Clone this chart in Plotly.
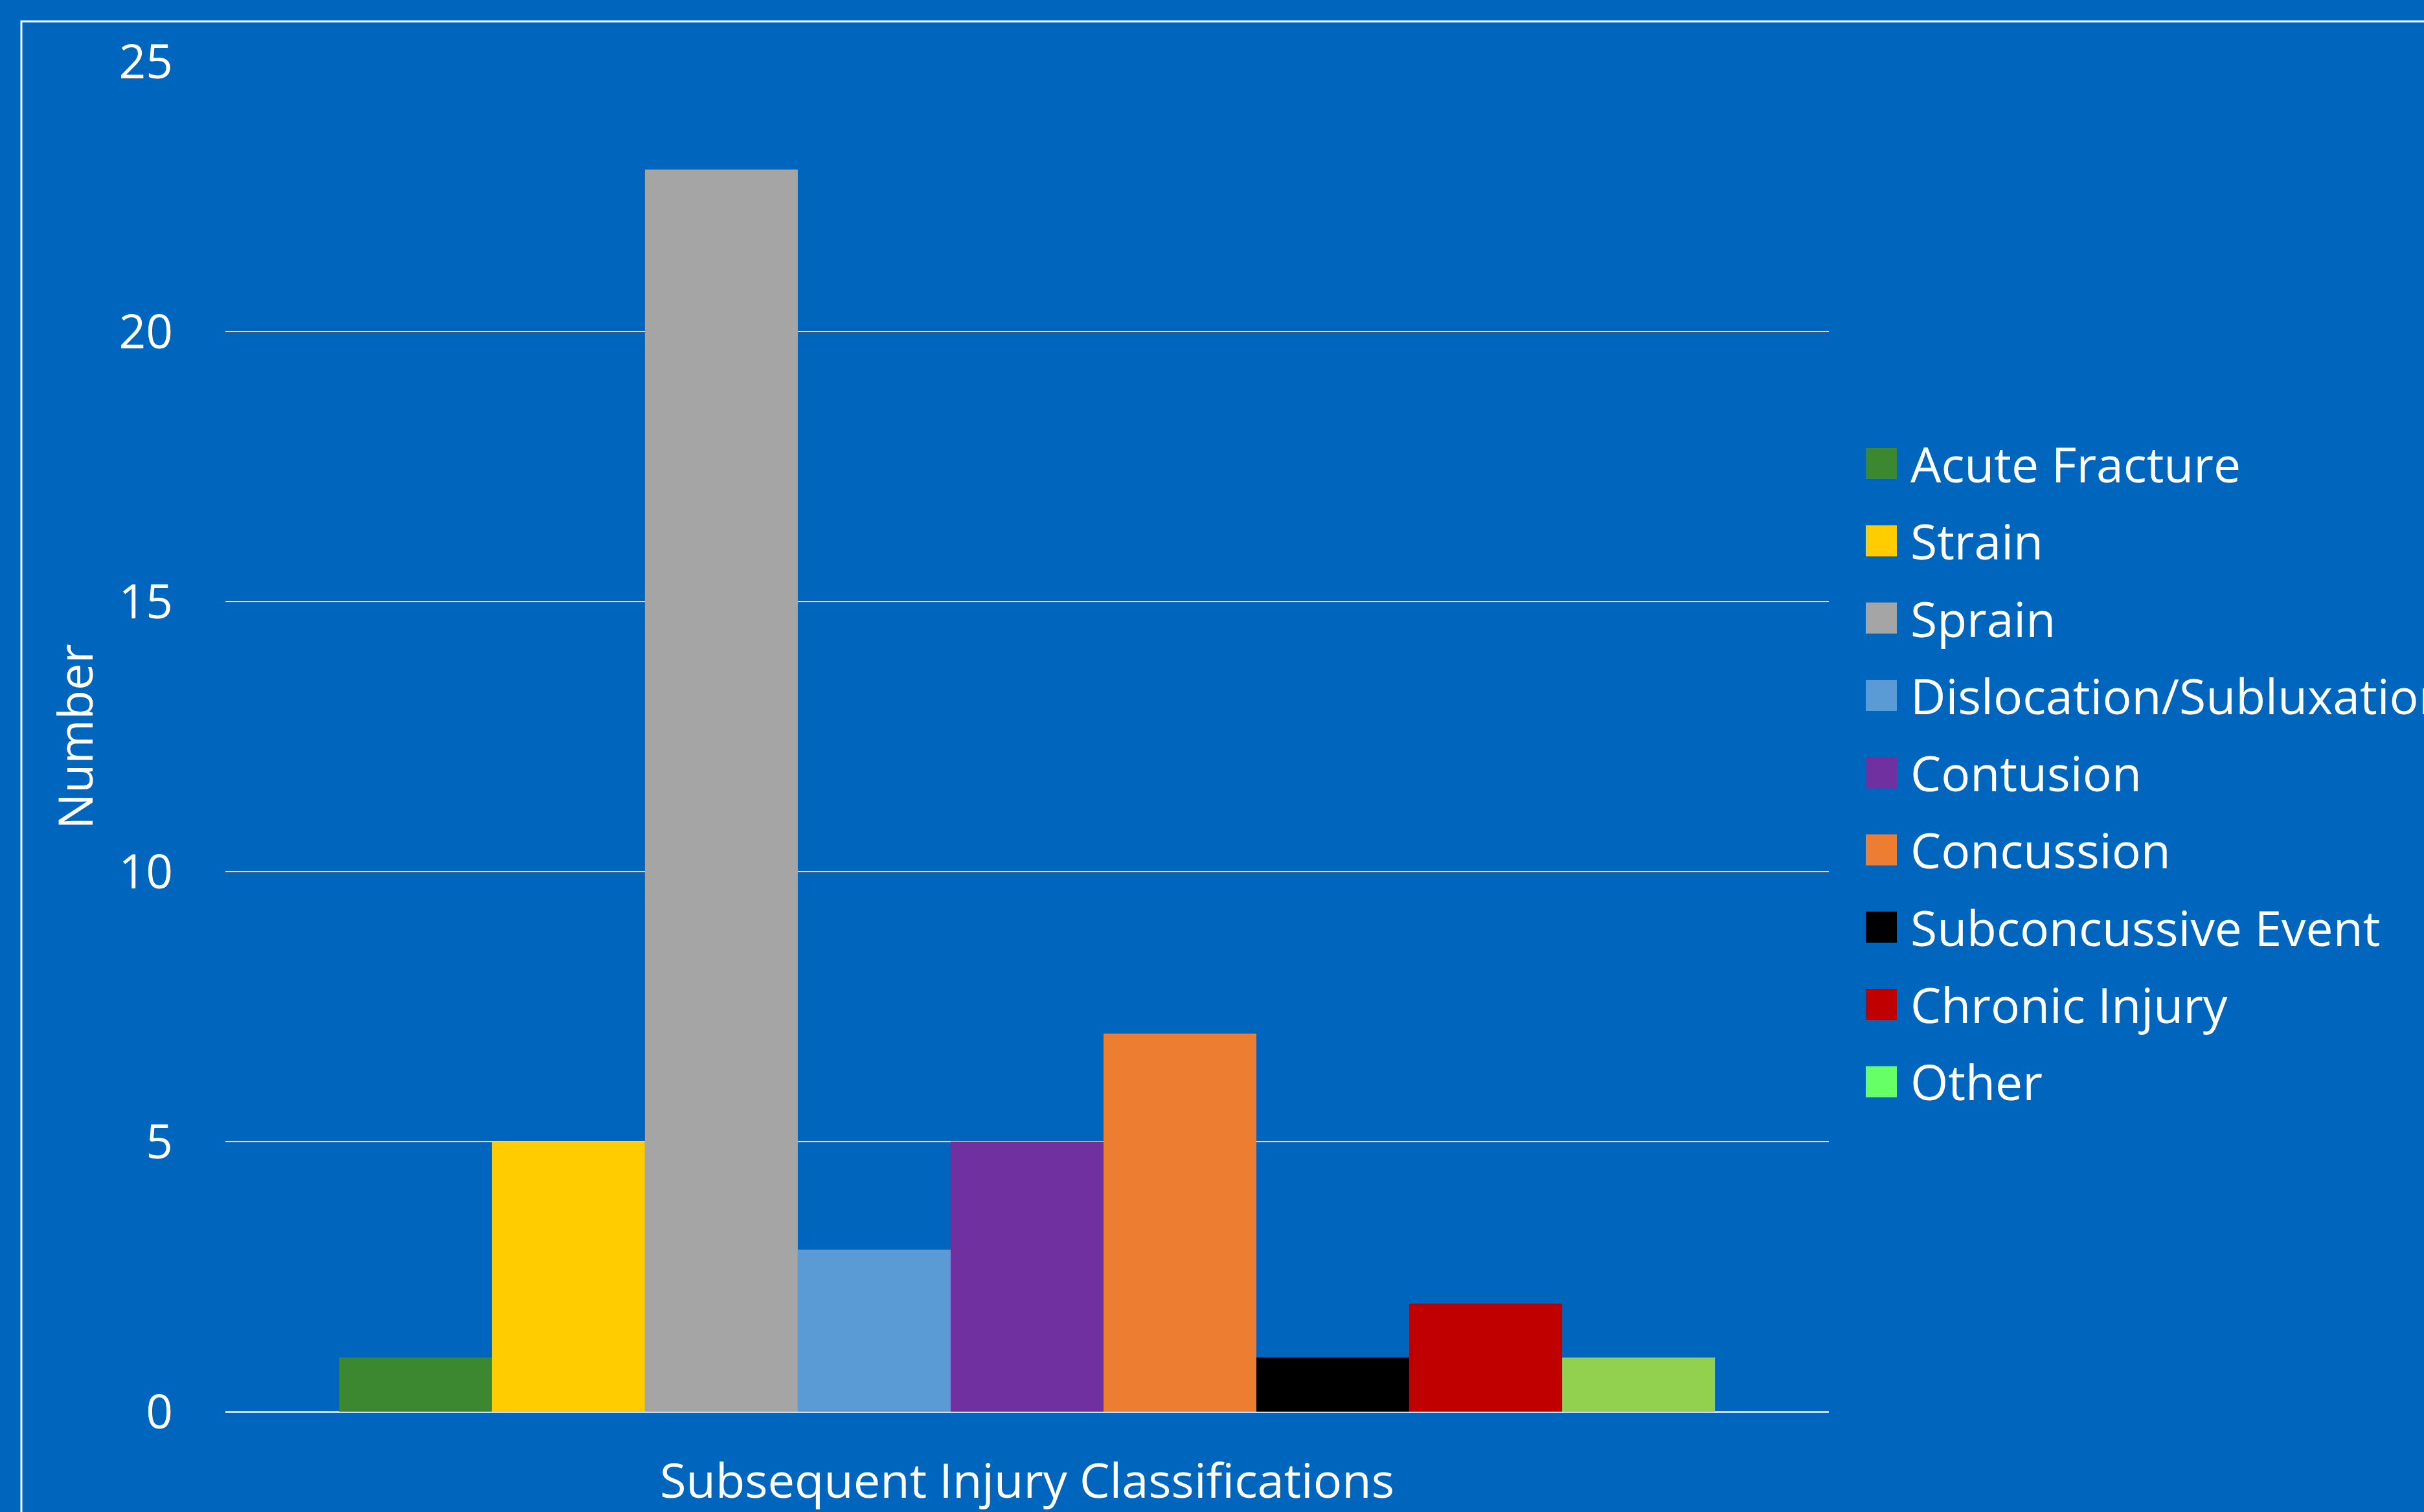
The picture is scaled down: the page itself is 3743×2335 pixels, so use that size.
import plotly.graph_objects as go

categories = ["Acute Fracture", "Strain", "Sprain", "Dislocation/Subluxation",
              "Contusion", "Concussion", "Subconcussive Event", "Chronic Injury", "Other"]
values = [1, 5, 23, 3, 5, 7, 1, 2, 1]
colors = ["#3C8830", "#FFCC00", "#A5A5A5", "#5B9BD5", "#7030A0",
          "#ED7D31", "#000000", "#C00000", "#92D050"]
legend_colors = ["#3C8830", "#FFCC00", "#A5A5A5", "#5B9BD5", "#7030A0",
                 "#ED7D31", "#000000", "#C00000", "#66FF66"]
group_label = "Subsequent Injury Classifications"
y_ticks = [0, 5, 10, 15, 20, 25]

W, H = 3743, 2335
ML, MR, MT, MB = 348, 919, 95, 155
PW, PH = W - ML - MR, H - MT - MB
BG = "#0065BD"
FONT = "Open Sans"

def px_x(px):
    return (px - ML) / PW

def px_y(py):
    return (H - MB - py) / PH

fig = go.Figure()
for name, v, c in zip(categories, values, colors):
    fig.add_trace(go.Bar(x=[group_label], y=[v], name=name,
                         marker=dict(color=c, line=dict(width=0)),
                         showlegend=False))

shapes = []
annotations = []
# outer frame
shapes.append(dict(type="rect", xref="paper", yref="paper",
                   x0=px_x(33), x1=px_x(W + 80), y0=px_y(H + 80), y1=px_y(33),
                   line=dict(color="white", width=3), fillcolor="rgba(0,0,0,0)",
                   layer="below"))
# manual legend
for i, (name, c) in enumerate(zip(categories, legend_colors)):
    cy = 716 + 119.3 * i
    shapes.append(dict(type="rect", xref="paper", yref="paper",
                       x0=px_x(2881), x1=px_x(2929), y0=px_y(cy + 24), y1=px_y(cy - 24),
                       line=dict(width=0), fillcolor=c))
    annotations.append(dict(xref="paper", yref="paper", x=px_x(2948), y=px_y(cy),
                            text=name, showarrow=False, xanchor="left", yanchor="middle",
                            font=dict(family=FONT, size=75, color="white")))

fig.update_layout(
    width=W, height=H,
    margin=dict(l=ML, r=MR, t=MT, b=MB),
    paper_bgcolor=BG, plot_bgcolor=BG,
    barmode="group", bargap=0.142, bargroupgap=0,
    showlegend=False,
    shapes=shapes, annotations=annotations,
    font=dict(family=FONT, color="white"),
)
fig.update_xaxes(showticklabels=False, showgrid=False, showline=False, zeroline=False,
                 title=dict(text=group_label, font=dict(family=FONT, size=74, color="white"),
                            standoff=90),
                 automargin=False)
fig.update_yaxes(range=[0, 25], tickvals=y_ticks, showgrid=True, gridcolor="#D9D9D9",
                 gridwidth=2, zeroline=True, zerolinecolor="#D9D9D9", zerolinewidth=3,
                 showline=False, ticks="", ticklabelstandoff=80,
                 tickfont=dict(family=FONT, size=73, color="white"),
                 title=dict(text="Number", font=dict(family=FONT, size=74, color="white"),
                            standoff=15),
                 automargin=False)

fig.write_html("out.html",
               config={"displayModeBar": False},
               post_script="document.body.style.margin='0';"
                           "document.body.style.background='" + BG + "';")
